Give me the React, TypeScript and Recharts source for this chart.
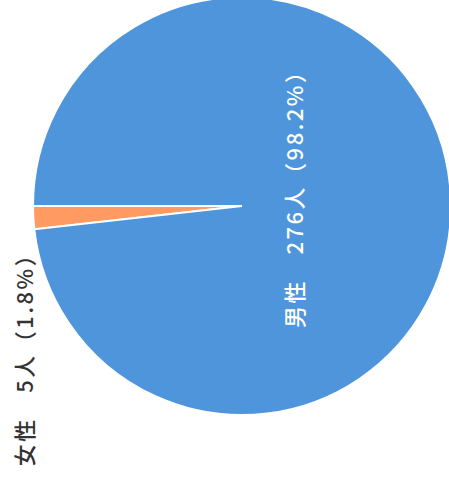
import React from "react";
import { PieChart, Pie, Cell } from "recharts";

const categories = ["女性", "男性"];
const counts = [5, 276];
const percents = ["1.8%", "98.2%"];
const colors = ["#FF9B62", "#4F95DC"];

const data = categories.map((name, i) => ({ name, value: counts[i], pct: percents[i] }));

const FONT = "'Noto Sans CJK SC', 'Noto Sans', sans-serif";

const renderLabel = (props: any) => {
  const { cx, cy, outerRadius, index } = props;
  const d = data[index];
  const text = `${d.name}\u3000${d.value}人（${d.pct}）`;
  let x: number, y: number, fill: string;
  if (index === 1) {
    x = cx + 51;
    y = cy + 122;
    fill = "#ffffff";
  } else {
    x = cx - outerRadius - 10;
    y = cy + outerRadius * 1.245;
    fill = "#333333";
  }
  return (
    <text
      key={`lbl-${index}`}
      x={x}
      y={y}
      fill={fill}
      fontSize={22}
      fontWeight={500}
      fontFamily={FONT}
      letterSpacing={2.5}
      textAnchor="start"
      dominantBaseline="central"
      transform={`rotate(-90 ${x} ${y})`}
      style={{ whiteSpace: "pre" }}
    >
      {text}
    </text>
  );
};

export default function App() {
  return (
    <div style={{ position: "absolute", left: 0, top: 0, width: 449, height: 484, background: "#fff" }}>
      <PieChart width={449} height={484} margin={{ top: 0, right: 0, bottom: 0, left: 0 }}>
        <Pie
          data={data}
          dataKey="value"
          cx={242}
          cy={206}
          outerRadius={209}
          innerRadius={0}
          startAngle={180}
          endAngle={540}
          stroke="#ffffff"
          strokeWidth={2}
          label={renderLabel}
          labelLine={false}
          isAnimationActive={false}
        >
          {data.map((d, i) => (
            <Cell key={d.name} fill={colors[i]} />
          ))}
        </Pie>
      </PieChart>
    </div>
  );
}
